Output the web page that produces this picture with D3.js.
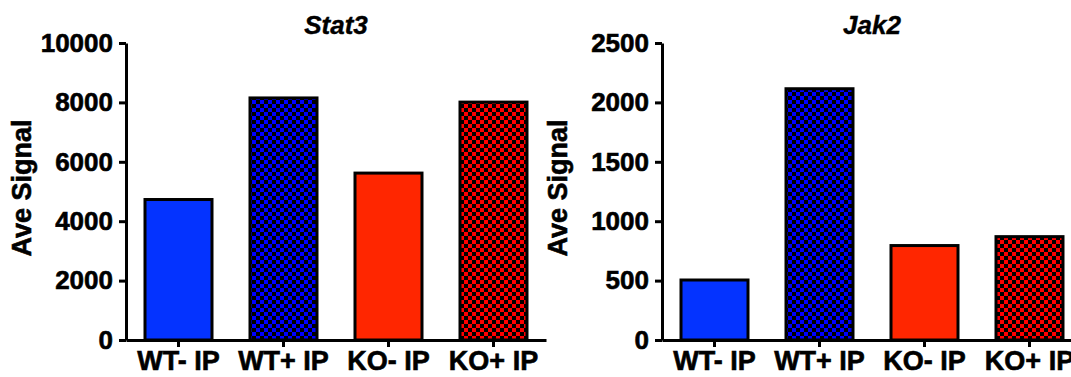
<!DOCTYPE html>
<html>
<head>
<meta charset="utf-8">
<script src="https://cdn.jsdelivr.net/npm/d3@7"></script>
<style>
  html, body { margin: 0; padding: 0; background: #fff; }
  svg { display: block; }
  text { font-family: "Liberation Sans", Arial, Helvetica, sans-serif; font-weight: bold; fill: #000; }
</style>
</head>
<body>
<svg id="chart" width="1071" height="377"></svg>
<script>
const categories = ["WT- IP", "WT+ IP", "KO- IP", "KO+ IP"];
const stat3Values = [4730, 8150, 5620, 8010];
const jak2Values = [505, 2115, 795, 870];
const stat3Ticks = [0, 2000, 4000, 6000, 8000, 10000];
const jak2Ticks = [0, 500, 1000, 1500, 2000, 2500];
const fills = ["#0433FF", "url(#checkBlue)", "#FF2600", "url(#checkRed)"];

const svg = d3.select("#chart");
const defs = svg.append("defs");
function checker(id, color) {
  const p = defs.append("pattern").attr("id", id)
    .attr("patternUnits", "userSpaceOnUse").attr("width", 8).attr("height", 8);
  p.append("rect").attr("width", 8).attr("height", 8).attr("fill", "#000");
  p.append("rect").attr("width", 4).attr("height", 4).attr("fill", color);
  p.append("rect").attr("x", 4).attr("y", 4).attr("width", 4).attr("height", 4).attr("fill", color);
}
checker("checkBlue", "#0000FF");
checker("checkRed", "#FF0000");

const yTop = 43, yBottom = 340;

function styleText(sel, size) {
  sel.attr("font-size", size).attr("font-weight", "bold")
    .attr("font-family", "Liberation Sans, Arial, sans-serif")
    .attr("fill", "#000").attr("stroke", "#000").attr("stroke-width", 0.6);
}

function drawChart(x0, title, values, ticks) {
  const g = svg.append("g");
  const x = d3.scaleBand().domain(categories).range([x0, x0 + 420])
    .paddingInner(1 / 3).paddingOuter(1 / 6);
  const y = d3.scaleLinear().domain([0, ticks[ticks.length - 1]]).range([yBottom, yTop]);

  g.selectAll("rect.bar").data(values).join("rect")
    .attr("class", "bar")
    .attr("x", (d, i) => x(categories[i]) + 1.5)
    .attr("width", x.bandwidth() - 3)
    .attr("y", d => y(d))
    .attr("height", d => yBottom - y(d))
    .attr("fill", (d, i) => fills[i])
    .attr("stroke", "#000").attr("stroke-width", 3);

  const ya = g.append("g").attr("transform", `translate(${x0},0)`)
    .call(d3.axisLeft(y).tickValues(ticks).tickFormat(d3.format("d"))
      .tickSize(7).tickSizeOuter(0).tickPadding(6));
  ya.select(".domain").attr("stroke-width", 3);
  ya.selectAll(".tick line").attr("stroke-width", 3);
  styleText(ya.selectAll(".tick text"), 26);

  const xa = g.append("g").attr("transform", `translate(0,${yBottom})`)
    .call(d3.axisBottom(x).tickSize(7).tickSizeOuter(0).tickPadding(4));
  xa.select(".domain").attr("stroke-width", 3);
  xa.selectAll(".tick line").attr("stroke-width", 3);
  styleText(xa.selectAll(".tick text"), 27);

  const t = g.append("text").attr("x", x0 + 210).attr("y", 34)
    .attr("text-anchor", "middle").attr("font-style", "italic")
    .text(title);
  styleText(t, 26);
  t.attr("stroke-width", 0.4);

  const yt = g.append("text").attr("transform", `translate(${x0 - 95},188) rotate(-90)`)
    .attr("text-anchor", "middle")
    .text("Ave Signal");
  styleText(yt, 27);
}

drawChart(126, "Stat3", stat3Values, stat3Ticks);
drawChart(662, "Jak2", jak2Values, jak2Ticks);
</script>
</body>
</html>
